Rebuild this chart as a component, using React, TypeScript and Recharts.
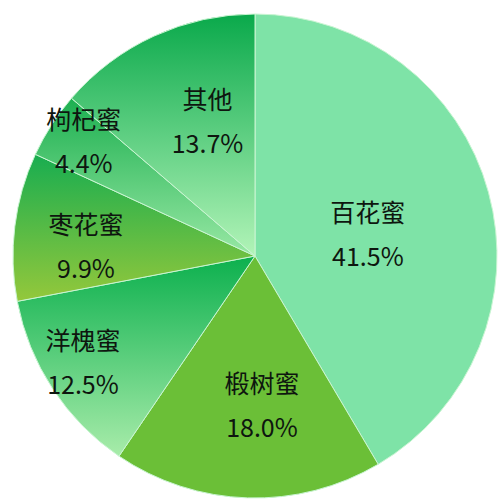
import React from "react";
import { PieChart, Pie, Cell } from "recharts";

const categories = ["百花蜜", "椴树蜜", "洋槐蜜", "枣花蜜", "枸杞蜜", "其他"];
const shares = [41.5, 18.0, 12.5, 9.9, 4.4, 13.7];

// style: fills (solid or vertical gradient top -> bottom)
const fills: Array<[string, string]> = [
  ["#7ee3a7", "#7ee3a7"],
  ["#6bbf37", "#6bbf37"],
  ["#0cb04e", "#a8ecaa"],
  ["#18ad50", "#94c83b"],
  ["#1caf50", "#98e8a4"],
  ["#0aa94b", "#b2f4b8"],
];
// style: label distance from centre (fraction of outer radius) and clockwise angle nudge (deg)
const labelRadius = [0.476, 0.612, 0.833, 0.7, 0.854, 0.595];
const labelNudge = [3.8, -4.5, 1.9, -3.3, 1.3, 5.4];

const data = categories.map((name, i) => ({ name, value: shares[i] }));

const RAD = Math.PI / 180;

const renderLabel = (props: any) => {
  const { cx, cy, midAngle, outerRadius, index, value } = props;
  const r = outerRadius * labelRadius[index];
  const a = midAngle - labelNudge[index];
  const x = cx + r * Math.cos(-a * RAD);
  const y = cy + r * Math.sin(-a * RAD);
  const common = {
    x,
    textAnchor: "middle" as const,
    dominantBaseline: "central" as const,
    fontFamily: "'Noto Sans CJK SC', sans-serif",
    fontSize: 25,
    fill: "#0e160f",
  };
  return (
    <g>
      <text {...common} y={y - 22}>
        {categories[index]}
      </text>
      <text {...common} y={y + 22}>
        {`${Number(value).toFixed(1)}%`}
      </text>
    </g>
  );
};

export default function App() {
  return (
    <div style={{ position: "absolute", left: 0, top: 0, width: 502, height: 500, background: "#fff" }}>
      <PieChart width={502} height={500} margin={{ top: 0, right: 0, bottom: 0, left: 0 }}>
        <defs>
          {fills.map((f, i) => (
            <linearGradient key={i} id={`g${i}`} x1="0" y1="0" x2="0" y2="1">
              <stop offset="0%" stopColor={f[0]} />
              <stop offset="100%" stopColor={f[1]} />
            </linearGradient>
          ))}
        </defs>
        <Pie
          data={data}
          dataKey="value"
          nameKey="name"
          cx={255}
          cy={256}
          outerRadius={242}
          startAngle={90}
          endAngle={-270}
          stroke="#c9f5d2"
          strokeWidth={1}
          label={renderLabel}
          labelLine={false}
          isAnimationActive={false}
        >
          {data.map((_, i) => (
            <Cell key={i} fill={`url(#g${i})`} />
          ))}
        </Pie>
      </PieChart>
    </div>
  );
}
